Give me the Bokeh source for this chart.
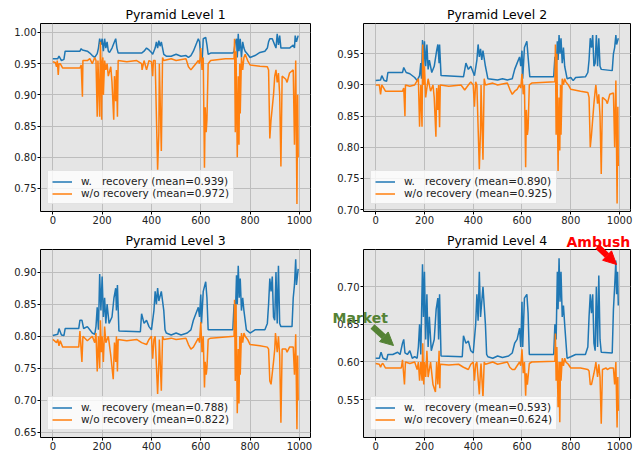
from bokeh.plotting import figure
from bokeh.models import (FixedTicker, NumeralTickFormatter, Label, Arrow, NormalHead, Range1d, GridBox)
from bokeh.embed import file_html
from bokeh.resources import INLINE

TITLES = ["Pyramid Level 1", "Pyramid Level 2", "Pyramid Level 3", "Pyramid Level 4"]
LABEL_W = ["w.   recovery (mean=0.939)", "w.   recovery (mean=0.890)",
           "w.   recovery (mean=0.788)", "w.   recovery (mean=0.593)"]
LABEL_WO = ["w/o recovery (mean=0.972)", "w/o recovery (mean=0.925)",
            "w/o recovery (mean=0.822)", "w/o recovery (mean=0.624)"]
X_TICKS = [0, 200, 400, 600, 800, 1000]
Y_TICKS = [[0.75, 0.80, 0.85, 0.90, 0.95, 1.00],
           [0.70, 0.75, 0.80, 0.85, 0.90, 0.95],
           [0.65, 0.70, 0.75, 0.80, 0.85, 0.90],
           [0.55, 0.60, 0.65, 0.70]]
Y_RANGES = [(0.713, 1.0144), (0.697, 0.9986), (0.642, 0.9353), (0.4996, 0.7496)]

# ---- Level 1 ----
L1_W_X = [0, 20, 25, 35, 45, 50, 110, 115, 120, 140, 150, 160, 170, 180, 185, 190, 195, 200, 205, 210,
          215, 220, 225, 230, 240, 250, 255, 260, 265, 360, 370, 380, 390, 400, 405, 415, 420, 425, 430,
          435, 440, 445, 450, 460, 480, 500, 520, 540, 550, 560, 570, 580, 590, 595, 600, 605, 610, 620,
          625, 630, 640, 730, 735, 740, 745, 748, 752, 755, 760, 765, 770, 775, 780, 790, 800, 820, 840,
          860, 870, 875, 880, 890, 900, 905, 910, 915, 920, 925, 960, 975, 980, 983, 988, 995]
L1_W_Y = [.958, .958, .962, .955, .957, .970, .970, .974, .972, .970, .967, .963, .960, .966, .975, .990,
          .980, .990, .970, .990, .975, .985, .970, .968, .975, .985, .990, .975, .967, .967, .970, .975,
          .972, .968, .965, .975, .985, .975, .987, .978, .985, .975, .965, .962, .962, .965, .962, .963,
          .960, .963, .970, .980, .990, .985, .960, .950, .990, .992, .980, .965, .967, .967, .970, .985,
          .990, .960, .998, .970, .990, .960, .985, .975, .970, .965, .960, .963, .968, .970, .975, .985,
          .990, .990, .980, .975, .998, .980, .995, .975, .975, .980, .975, .995, .985, .995]
L1_WO_X = [0, 10, 15, 18, 22, 25, 30, 40, 110, 115, 120, 122, 140, 150, 160, 170, 175, 180, 183, 190,
           193, 196, 198, 200, 203, 205, 210, 215, 220, 225, 235, 240, 247, 250, 255, 258, 262, 265, 300,
           340, 360, 362, 370, 380, 390, 400, 405, 408, 415, 425, 430, 432, 440, 445, 450, 480, 500, 540,
           550, 560, 570, 580, 590, 595, 600, 605, 610, 615, 618, 622, 625, 630, 640, 700, 735, 737, 740,
           743, 748, 752, 755, 758, 760, 765, 770, 775, 780, 790, 800, 840, 870, 875, 880, 885, 895, 900,
           905, 910, 915, 920, 925, 930, 945, 950, 960, 975, 980, 985, 990, 993, 995]
L1_WO_Y = [.953, .952, .945, .955, .932, .950, .950, .943, .943, .948, .897, .955, .955, .958, .950, .960,
           .955, .865, .955, .865, .985, .940, .860, .950, .960, .900, .955, .940, .950, .930, .945, .920,
           .860, .930, .890, .940, .865, .955, .953, .955, .950, .940, .955, .940, .955, .953, .930, .955,
           .955, .780, .840, .950, .810, .960, .955, .958, .955, .958, .945, .940, .945, .950, .955, .950,
           .975, .940, .960, .783, .880, .840, .860, .950, .955, .958, .958, .990, .840, .970, .800, .930,
           .820, .950, .870, .960, .940, .960, .965, .955, .948, .946, .945, .940, .830, .860, .900, .930,
           .940, .920, .935, .900, .785, .930, .925, .920, .935, .940, .820, .955, .725, .900, .800]

# ---- Level 2 ----
L2_W_X = [0, 20, 25, 35, 45, 50, 110, 115, 125, 140, 160, 170, 180, 185, 188, 192, 196, 200, 205, 210,
          215, 220, 230, 240, 250, 255, 260, 262, 268, 360, 370, 380, 390, 400, 405, 415, 420, 425, 430,
          435, 440, 450, 460, 500, 520, 540, 560, 570, 580, 590, 595, 600, 603, 610, 620, 625, 632, 730,
          735, 740, 745, 748, 752, 756, 760, 765, 770, 775, 785, 800, 810, 820, 860, 870, 875, 880, 885,
          890, 895, 900, 905, 910, 915, 920, 925, 970, 975, 980, 985, 988, 995]
L2_W_Y = [.907, .908, .915, .907, .906, .920, .920, .928, .920, .918, .912, .907, .915, .935, .910, .972,
          .930, .970, .930, .965, .925, .940, .920, .930, .955, .965, .935, .965, .915, .913, .935, .925,
          .930, .920, .915, .940, .965, .945, .958, .940, .955, .930, .910, .908, .910, .908, .910, .925,
          .935, .945, .930, .955, .910, .960, .970, .945, .913, .913, .945, .925, .970, .940, .980, .950,
          .975, .935, .960, .930, .910, .912, .907, .912, .913, .920, .940, .975, .960, .980, .930, .935,
          .980, .930, .975, .930, .925, .923, .950, .960, .980, .965, .975]
L2_WO_X = [0, 15, 20, 25, 30, 40, 110, 115, 120, 122, 140, 160, 175, 180, 185, 190, 193, 197, 200, 205,
           215, 225, 235, 240, 247, 250, 255, 258, 262, 265, 300, 350, 365, 380, 390, 400, 405, 410, 415,
           425, 430, 432, 440, 445, 450, 480, 500, 540, 550, 560, 570, 580, 590, 595, 600, 605, 610, 615,
           618, 622, 625, 630, 640, 735, 737, 740, 743, 748, 752, 755, 758, 760, 765, 770, 775, 780, 790,
           800, 840, 870, 875, 880, 885, 895, 900, 903, 910, 915, 920, 925, 930, 945, 950, 960, 975, 980,
           985, 990, 993, 995]
L2_WO_Y = [.900, .900, .885, .900, .897, .890, .890, .895, .850, .900, .898, .900, .910, .833, .900, .833,
           .965, .900, .930, .880, .910, .890, .900, .880, .817, .895, .860, .900, .832, .900, .898, .900,
           .892, .900, .905, .900, .865, .905, .900, .765, .830, .900, .780, .910, .900, .903, .900, .903,
           .893, .885, .890, .893, .900, .895, .918, .885, .900, .768, .860, .820, .830, .900, .903, .905,
           .965, .820, .950, .762, .880, .795, .900, .820, .910, .900, .910, .905, .900, .893, .890, .888,
           .880, .800, .820, .870, .890, .900, .870, .885, .850, .757, .880, .875, .870, .885, .887, .800,
           .907, .710, .865, .770]

# ---- Level 3 ----
L3_W_X = [0, 20, 25, 35, 45, 50, 105, 110, 118, 125, 140, 150, 160, 170, 175, 180, 185, 190, 195, 200,
          205, 210, 215, 220, 228, 240, 248, 255, 258, 262, 268, 355, 360, 370, 380, 390, 400, 410, 415,
          420, 425, 430, 440, 450, 455, 460, 480, 500, 520, 545, 560, 570, 580, 590, 595, 600, 603, 610,
          620, 625, 630, 730, 735, 740, 745, 748, 752, 756, 760, 765, 770, 775, 785, 800, 820, 860, 870,
          875, 880, 885, 890, 895, 900, 905, 910, 915, 920, 925, 970, 975, 980, 985, 988, 995]
L3_W_Y = [.801, .803, .812, .802, .801, .812, .812, .825, .825, .812, .815, .810, .805, .803, .815, .845,
          .810, .897, .840, .893, .830, .860, .820, .850, .820, .830, .860, .875, .840, .880, .808, .807,
          .835, .820, .825, .815, .810, .840, .870, .850, .875, .855, .870, .840, .810, .805, .802, .805,
          .802, .805, .810, .825, .835, .845, .830, .865, .820, .870, .885, .860, .810, .810, .850, .830,
          .895, .850, .910, .860, .890, .840, .860, .840, .810, .805, .810, .810, .820, .850, .890, .870,
          .893, .830, .825, .900, .820, .910, .820, .815, .815, .860, .880, .920, .880, .905]
L3_WO_X = [0, 15, 20, 25, 30, 40, 105, 110, 118, 122, 140, 160, 170, 175, 180, 185, 190, 193, 197, 200,
           205, 210, 215, 225, 235, 245, 250, 255, 258, 262, 265, 300, 340, 360, 380, 390, 400, 405, 410,
           415, 425, 430, 432, 440, 445, 450, 480, 500, 540, 550, 560, 570, 580, 590, 595, 600, 605, 610,
           615, 618, 622, 625, 630, 640, 735, 737, 740, 743, 748, 752, 755, 758, 760, 765, 770, 775, 780,
           790, 800, 840, 870, 875, 880, 885, 895, 900, 903, 910, 915, 920, 925, 930, 945, 950, 960, 975,
           980, 985, 990, 993, 995]
L3_WO_Y = [.795, .790, .795, .785, .793, .783, .783, .808, .760, .800, .793, .800, .790, .805, .745, .800,
           .750, .825, .775, .800, .760, .815, .790, .800, .770, .733, .790, .760, .800, .745, .795, .793,
           .795, .790, .787, .795, .800, .765, .795, .800, .710, .760, .795, .715, .800, .795, .797, .795,
           .797, .787, .780, .783, .790, .797, .790, .822, .775, .800, .720, .760, .740, .750, .795, .797,
           .800, .857, .730, .850, .680, .780, .695, .800, .740, .805, .790, .805, .800, .795, .787, .785,
           .783, .780, .730, .725, .760, .780, .805, .775, .800, .770, .665, .780, .780, .775, .783, .783,
           .740, .803, .655, .770, .700]

# ---- Level 4 ----
L4_W_X = [0, 15, 22, 30, 45, 50, 70, 90, 100, 110, 115, 120, 130, 140, 150, 160, 170, 175, 180, 185,
          192, 196, 200, 205, 210, 215, 220, 228, 240, 248, 255, 258, 262, 268, 355, 360, 370, 380, 390,
          400, 410, 415, 420, 425, 430, 440, 450, 455, 460, 480, 500, 520, 545, 560, 570, 580, 590, 595,
          600, 603, 610, 620, 625, 630, 730, 735, 740, 745, 748, 752, 756, 760, 765, 770, 775, 785, 800,
          820, 860, 870, 875, 880, 885, 890, 895, 900, 905, 910, 915, 920, 925, 970, 975, 980, 985, 988,
          992, 995]
L4_W_Y = [.605, .605, .613, .605, .603, .610, .610, .613, .610, .625, .630, .612, .610, .615, .605, .607,
          .605, .620, .650, .610, .730, .660, .720, .630, .690, .620, .660, .615, .630, .670, .685, .630,
          .690, .608, .607, .635, .625, .628, .615, .612, .650, .690, .655, .720, .660, .700, .650, .610,
          .607, .605, .608, .606, .608, .612, .625, .630, .645, .620, .680, .620, .685, .690, .665, .610,
          .610, .650, .630, .720, .670, .738, .680, .720, .660, .675, .650, .605, .607, .610, .610, .620,
          .660, .690, .665, .690, .625, .615, .700, .620, .715, .630, .613, .612, .670, .700, .735, .690,
          .720, .675]
L4_WO_X = [0, 15, 20, 25, 30, 40, 105, 110, 118, 122, 140, 160, 170, 175, 180, 185, 190, 193, 197, 200,
           205, 210, 215, 225, 235, 245, 250, 255, 260, 263, 265, 300, 340, 360, 380, 390, 400, 405, 410,
           415, 425, 430, 432, 440, 445, 450, 480, 500, 540, 550, 560, 570, 580, 590, 595, 600, 605, 610,
           615, 618, 622, 625, 630, 640, 735, 737, 740, 743, 748, 752, 755, 758, 760, 765, 770, 775, 780,
           790, 800, 840, 870, 875, 880, 885, 895, 900, 903, 910, 915, 920, 925, 930, 945, 950, 960, 975,
           980, 985, 990, 993, 995]
L4_WO_Y = [.598, .597, .593, .597, .598, .592, .592, .603, .570, .600, .598, .600, .590, .600, .575, .600,
           .575, .625, .570, .600, .580, .615, .580, .600, .570, .560, .600, .570, .615, .565, .597, .596,
           .597, .593, .590, .597, .600, .575, .597, .600, .557, .590, .598, .553, .600, .597, .600, .597,
           .600, .593, .590, .590, .595, .600, .595, .617, .585, .600, .555, .585, .570, .580, .598, .600,
           .601, .638, .575, .620, .540, .600, .520, .600, .575, .605, .595, .605, .600, .597, .592, .592,
           .590, .588, .570, .570, .585, .593, .600, .580, .597, .580, .518, .590, .592, .590, .592, .592,
           .570, .600, .513, .580, .535]

SERIES = [(L1_W_X, L1_W_Y, L1_WO_X, L1_WO_Y), (L2_W_X, L2_W_Y, L2_WO_X, L2_WO_Y),
          (L3_W_X, L3_W_Y, L3_WO_X, L3_WO_Y), (L4_W_X, L4_W_Y, L4_WO_X, L4_WO_Y)]

FONT = "DejaVu Sans"
BLUE = "#1f77b4"
ORANGE = "#ff7f0e"
GREEN = "#548235"

PAGE_W, PAGE_H = 634, 456
# geometry: (width, height, border_left, border_right, border_top, border_bottom)
GEOM = [(314, 228, 40, 4, 23, 17), (320, 228, 49, 4, 23, 17),
        (314, 228, 40, 4, 21, 19), (320, 228, 49, 4, 21, 19)]

figs = []
for i in range(4):
    w, h, bl, br, bt, bb = GEOM[i]
    p = figure(width=w, height=h, output_backend="svg", toolbar_location=None,
               x_range=Range1d(-50, 1045), y_range=Range1d(*Y_RANGES[i]),
               min_border_left=bl, min_border_right=br, min_border_top=bt, min_border_bottom=bb,
               background_fill_color="#e5e5e5", border_fill_color="white")
    p.title.text = TITLES[i]
    p.title.align = "center"
    p.title.text_font = FONT
    p.title.text_font_style = "normal"
    p.title.text_font_size = "12.5px"
    p.title.text_color = "black"
    p.title.standoff = 3
    p.outline_line_color = "black"
    p.outline_line_width = 1
    p.outline_line_alpha = 1.0
    p.grid.grid_line_color = "#bdbdbd"
    p.grid.grid_line_width = 1
    p.xaxis.ticker = FixedTicker(ticks=X_TICKS)
    p.yaxis.ticker = FixedTicker(ticks=Y_TICKS[i])
    p.yaxis.formatter = NumeralTickFormatter(format="0.00")
    for ax in (p.xaxis, p.yaxis):
        ax.axis_line_color = None
        ax.major_tick_line_color = "black"
        ax.major_tick_out = 3
        ax.major_tick_in = 0
        ax.minor_tick_line_color = None
        ax.major_label_text_font = FONT
        ax.major_label_text_font_size = "10px"
        ax.major_label_text_color = "#222222"
        ax.major_label_standoff = 1
    xw, yw, xo, yo = SERIES[i]
    p.line(xw, yw, line_color=BLUE, line_width=1.5, legend_label=LABEL_W[i])
    p.line(xo, yo, line_color=ORANGE, line_width=1.5, legend_label=LABEL_WO[i])
    lg = p.legend[0]
    lg.location = "bottom_left"
    lg.margin = 7
    lg.padding = 4
    lg.spacing = 0
    lg.glyph_width = 20
    lg.glyph_height = 11
    lg.label_height = 11
    lg.label_standoff = 9
    lg.label_text_font = FONT
    lg.label_text_font_size = "10.5px"
    lg.label_text_color = "#222222"
    lg.background_fill_color = "white"
    lg.background_fill_alpha = 0.8
    lg.border_line_color = "#cccccc"
    figs.append(p)

# Transparent overlay spanning the whole grid for the annotations that sit outside the frames.
# The grid aligns its frame with the outer borders of the cells, so its ranges are set so
# that one data unit equals one page pixel (y pointing down).
ov_left = GEOM[0][2]
ov_right = PAGE_W - GEOM[1][3]
ov_top = max(GEOM[0][4], GEOM[1][4])
ov_bottom = PAGE_H - max(GEOM[2][5], GEOM[3][5])
ov = figure(width=PAGE_W, height=PAGE_H, output_backend="svg", toolbar_location=None,
            x_range=Range1d(ov_left, ov_right), y_range=Range1d(ov_bottom, ov_top),
            x_axis_type=None, y_axis_type=None,
            min_border_left=0, min_border_right=0, min_border_top=0, min_border_bottom=0,
            background_fill_alpha=0, border_fill_alpha=0, outline_line_color=None)
ov.xgrid.visible = False
ov.ygrid.visible = False
ov.add_layout(Label(x=332, y=317, text="Market", text_font=FONT, text_font_style="bold",
                    text_font_size="14px", text_color=GREEN, text_baseline="alphabetic"))
ov.add_layout(Arrow(x_start=372, y_start=326, x_end=393, y_end=345, line_color=GREEN, line_width=6,
                    end=NormalHead(size=13, fill_color=GREEN, line_color=GREEN)))
ov.add_layout(Label(x=566, y=241, text="Ambush", text_font=FONT, text_font_style="bold",
                    text_font_size="14px", text_color="red", text_baseline="alphabetic"))
ov.add_layout(Arrow(x_start=597, y_start=246, x_end=616, y_end=264, line_color="red", line_width=6,
                    end=NormalHead(size=13, fill_color="red", line_color="red")))

grid = GridBox(children=[(figs[0], 0, 0), (figs[1], 0, 1), (figs[2], 1, 0), (figs[3], 1, 1),
                         (ov, 0, 0, 2, 2)])
open("out.html", "w").write(file_html(grid, INLINE))
